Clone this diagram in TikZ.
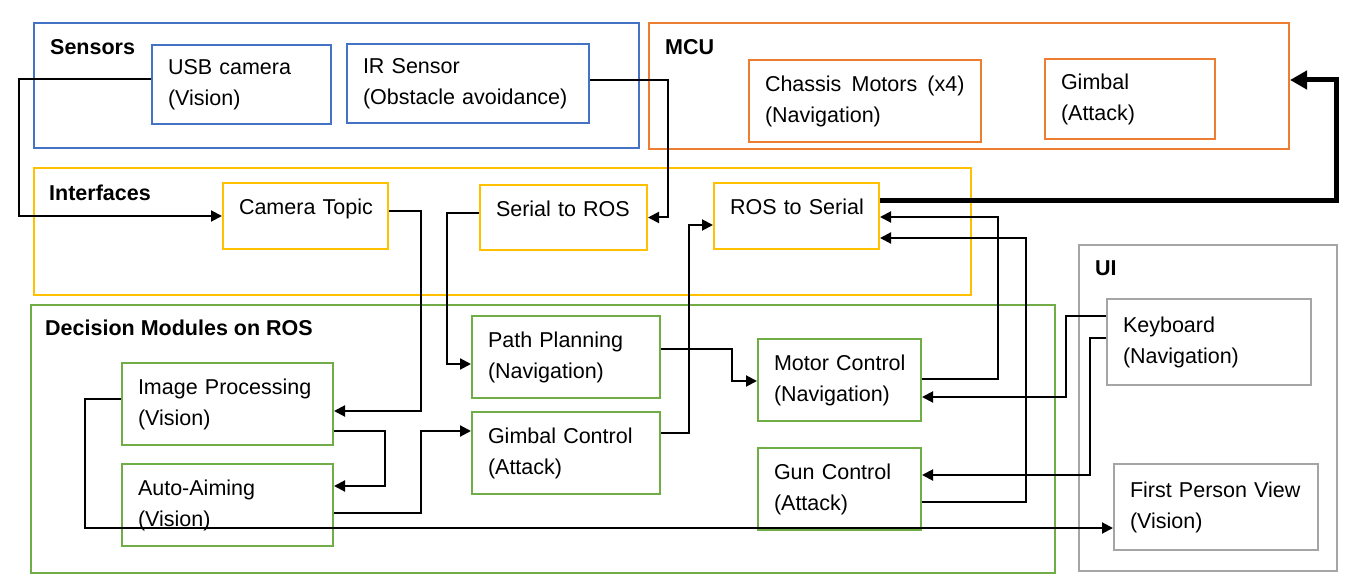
\documentclass[tikz,border=0pt]{standalone}
\usepackage{fontspec}
\setmainfont{Liberation Sans}
\usetikzlibrary{arrows.meta}
\definecolor{sblue}{HTML}{4472C4}
\definecolor{sorange}{HTML}{ED7D31}
\definecolor{syellow}{HTML}{FFC000}
\definecolor{sgreen}{HTML}{70AD47}
\definecolor{sgray}{HTML}{A5A5A5}
\hyphenpenalty=10000
\exhyphenpenalty=10000

\begin{document}
\begin{tikzpicture}[
  x=1pt, y=-1pt,
  font=\fontsize{21.5}{31}\selectfont,
  grp/.style={draw,line width=2pt,anchor=north west,inner sep=0pt},
  box/.style={draw,line width=2pt,anchor=north west,align=left,inner xsep=16pt,inner ysep=0pt},
  oneline/.style={text depth=18pt},
  lbl/.style={anchor=west,inner sep=0pt,font=\fontsize{21.5}{31}\selectfont\bfseries},
  arr/.style={-{Triangle[length=11pt,width=11pt]},line width=2pt},
  bus/.style={-{Triangle[length=17pt,width=18pt]},line width=5pt}
]
\useasboundingbox (0,0) rectangle (1360,588);

% groups
\node[grp,draw=sblue,minimum width=605pt,minimum height=125pt] (sensors) at (33,22) {};
\node[grp,draw=sorange,minimum width=640pt,minimum height=126pt] (mcu) at (648,22) {};
\node[grp,draw=syellow,minimum width=937pt,minimum height=127pt] (iface) at (33,167) {};
\node[grp,draw=sgray,minimum width=258pt,minimum height=326pt] (ui) at (1078,244) {};
\node[grp,draw=sgreen,minimum width=1024pt,minimum height=268pt] (decision) at (30,304) {};

\node[lbl] (sensorslbl) at (50,47) {Sensors};
\node[lbl] (mculbl) at (665,47) {MCU};
\node[lbl] (ifacelbl) at (49,193) {Interfaces};
\node[lbl] (uilbl) at (1095,268) {UI};
\node[lbl] (decisionlbl) at (45,328) {Decision Modules on ROS};

% sensors and mcu
\node[box,draw=sblue,text width=147pt,minimum height=79pt] (usb) at (151,44) {USB~camera\\(Vision)};
\node[box,draw=sblue,text width=210pt,minimum height=79pt] (ir) at (346,43) {IR~Sensor\\(Obstacle~avoidance)};
\node[box,draw=sorange,text width=200pt,minimum height=82pt] (chassis) at (748,59) {Chassis\hspace{3pt}~Motors\hspace{3pt}~(x4)\\(Navigation)};
\node[box,draw=sorange,text width=138pt,minimum height=80pt] (gimbal) at (1044,58) {Gimbal\\(Attack)};

% interfaces
\node[box,oneline,draw=syellow,text width=133pt,minimum height=66pt] (camtopic) at (222,182) {Camera~Topic};
\node[box,oneline,draw=syellow,text width=135pt,minimum height=65pt] (ser2ros) at (479,184) {Serial~to~ROS};
\node[box,oneline,draw=syellow,text width=133pt,minimum height=66pt] (ros2ser) at (713,182) {ROS~to~Serial};

% decision modules
\node[box,draw=sgreen,text width=156pt,minimum height=82pt] (path) at (471,315) {Path~Planning\\(Navigation)};
\node[box,draw=sgreen,text width=156pt,minimum height=82pt] (gimbalctl) at (471,411) {Gimbal~Control\\(Attack)};
\node[box,draw=sgreen,text width=179pt,minimum height=82pt] (imgproc) at (121,362) {Image~Processing\\(Vision)};
\node[box,draw=sgreen,text width=179pt,minimum height=82pt] (autoaim) at (121,463) {Auto-Aiming\\(Vision)};
\node[box,draw=sgreen,text width=131pt,minimum height=82pt] (motor) at (757,338) {Motor~Control\\(Navigation)};
\node[box,draw=sgreen,text width=131pt,minimum height=82pt] (gun) at (757,447) {Gun~Control\\(Attack)};

% ui
\node[box,draw=sgray,text width=172pt,minimum height=86pt] (keyboard) at (1106,298) {Keyboard\\(Navigation)};
\node[box,draw=sgray,text width=172pt,minimum height=86pt] (fpv) at (1113,463) {First~Person~View\\(Vision)};

% connectors
\draw[arr] (usb.west |- 0,79) -| (19,216) -- (camtopic.west);
\draw[arr] (ir.east |- 0,80) -| ([xshift=20pt]ser2ros.east) -- (ser2ros.east);
\draw[arr] (camtopic.east |- 0,211) -| (421,411) -- (imgproc.east |- 0,411);
\draw[arr] (ser2ros.west |- 0,213) -| (447,364) -- (path.west |- 0,364);
\draw[arr] (gimbalctl.east |- 0,433) -| (689,225) -- (ros2ser.west |- 0,225);
\draw[arr] (motor.east |- 0,379) -| (998,217) -- (ros2ser.east |- 0,217);
\draw[arr] (gun.east |- 0,502) -| (1026,238) -- (ros2ser.east |- 0,238);
\draw[bus] (ros2ser.east |- 0,201) -| (1336,80) -- (mcu.east |- 0,80);
\draw[arr] (path.east |- 0,349) -| (732,381) -- (motor.west |- 0,381);
\draw[arr] (keyboard.west |- 0,316) -| (1066,397) -- (motor.east |- 0,397);
\draw[arr] (keyboard.west |- 0,338) -| (1090,475) -- (gun.east |- 0,475);
\draw[arr] (imgproc.east |- 0,431) -| (385,486) -- (autoaim.east |- 0,486);
\draw[arr] (autoaim.east |- 0,513) -| (421,431) -- (gimbalctl.west |- 0,431);
\draw[arr] (imgproc.west |- 0,399) -| (85,528) -- (fpv.west |- 0,528);

\end{tikzpicture}
\end{document}
